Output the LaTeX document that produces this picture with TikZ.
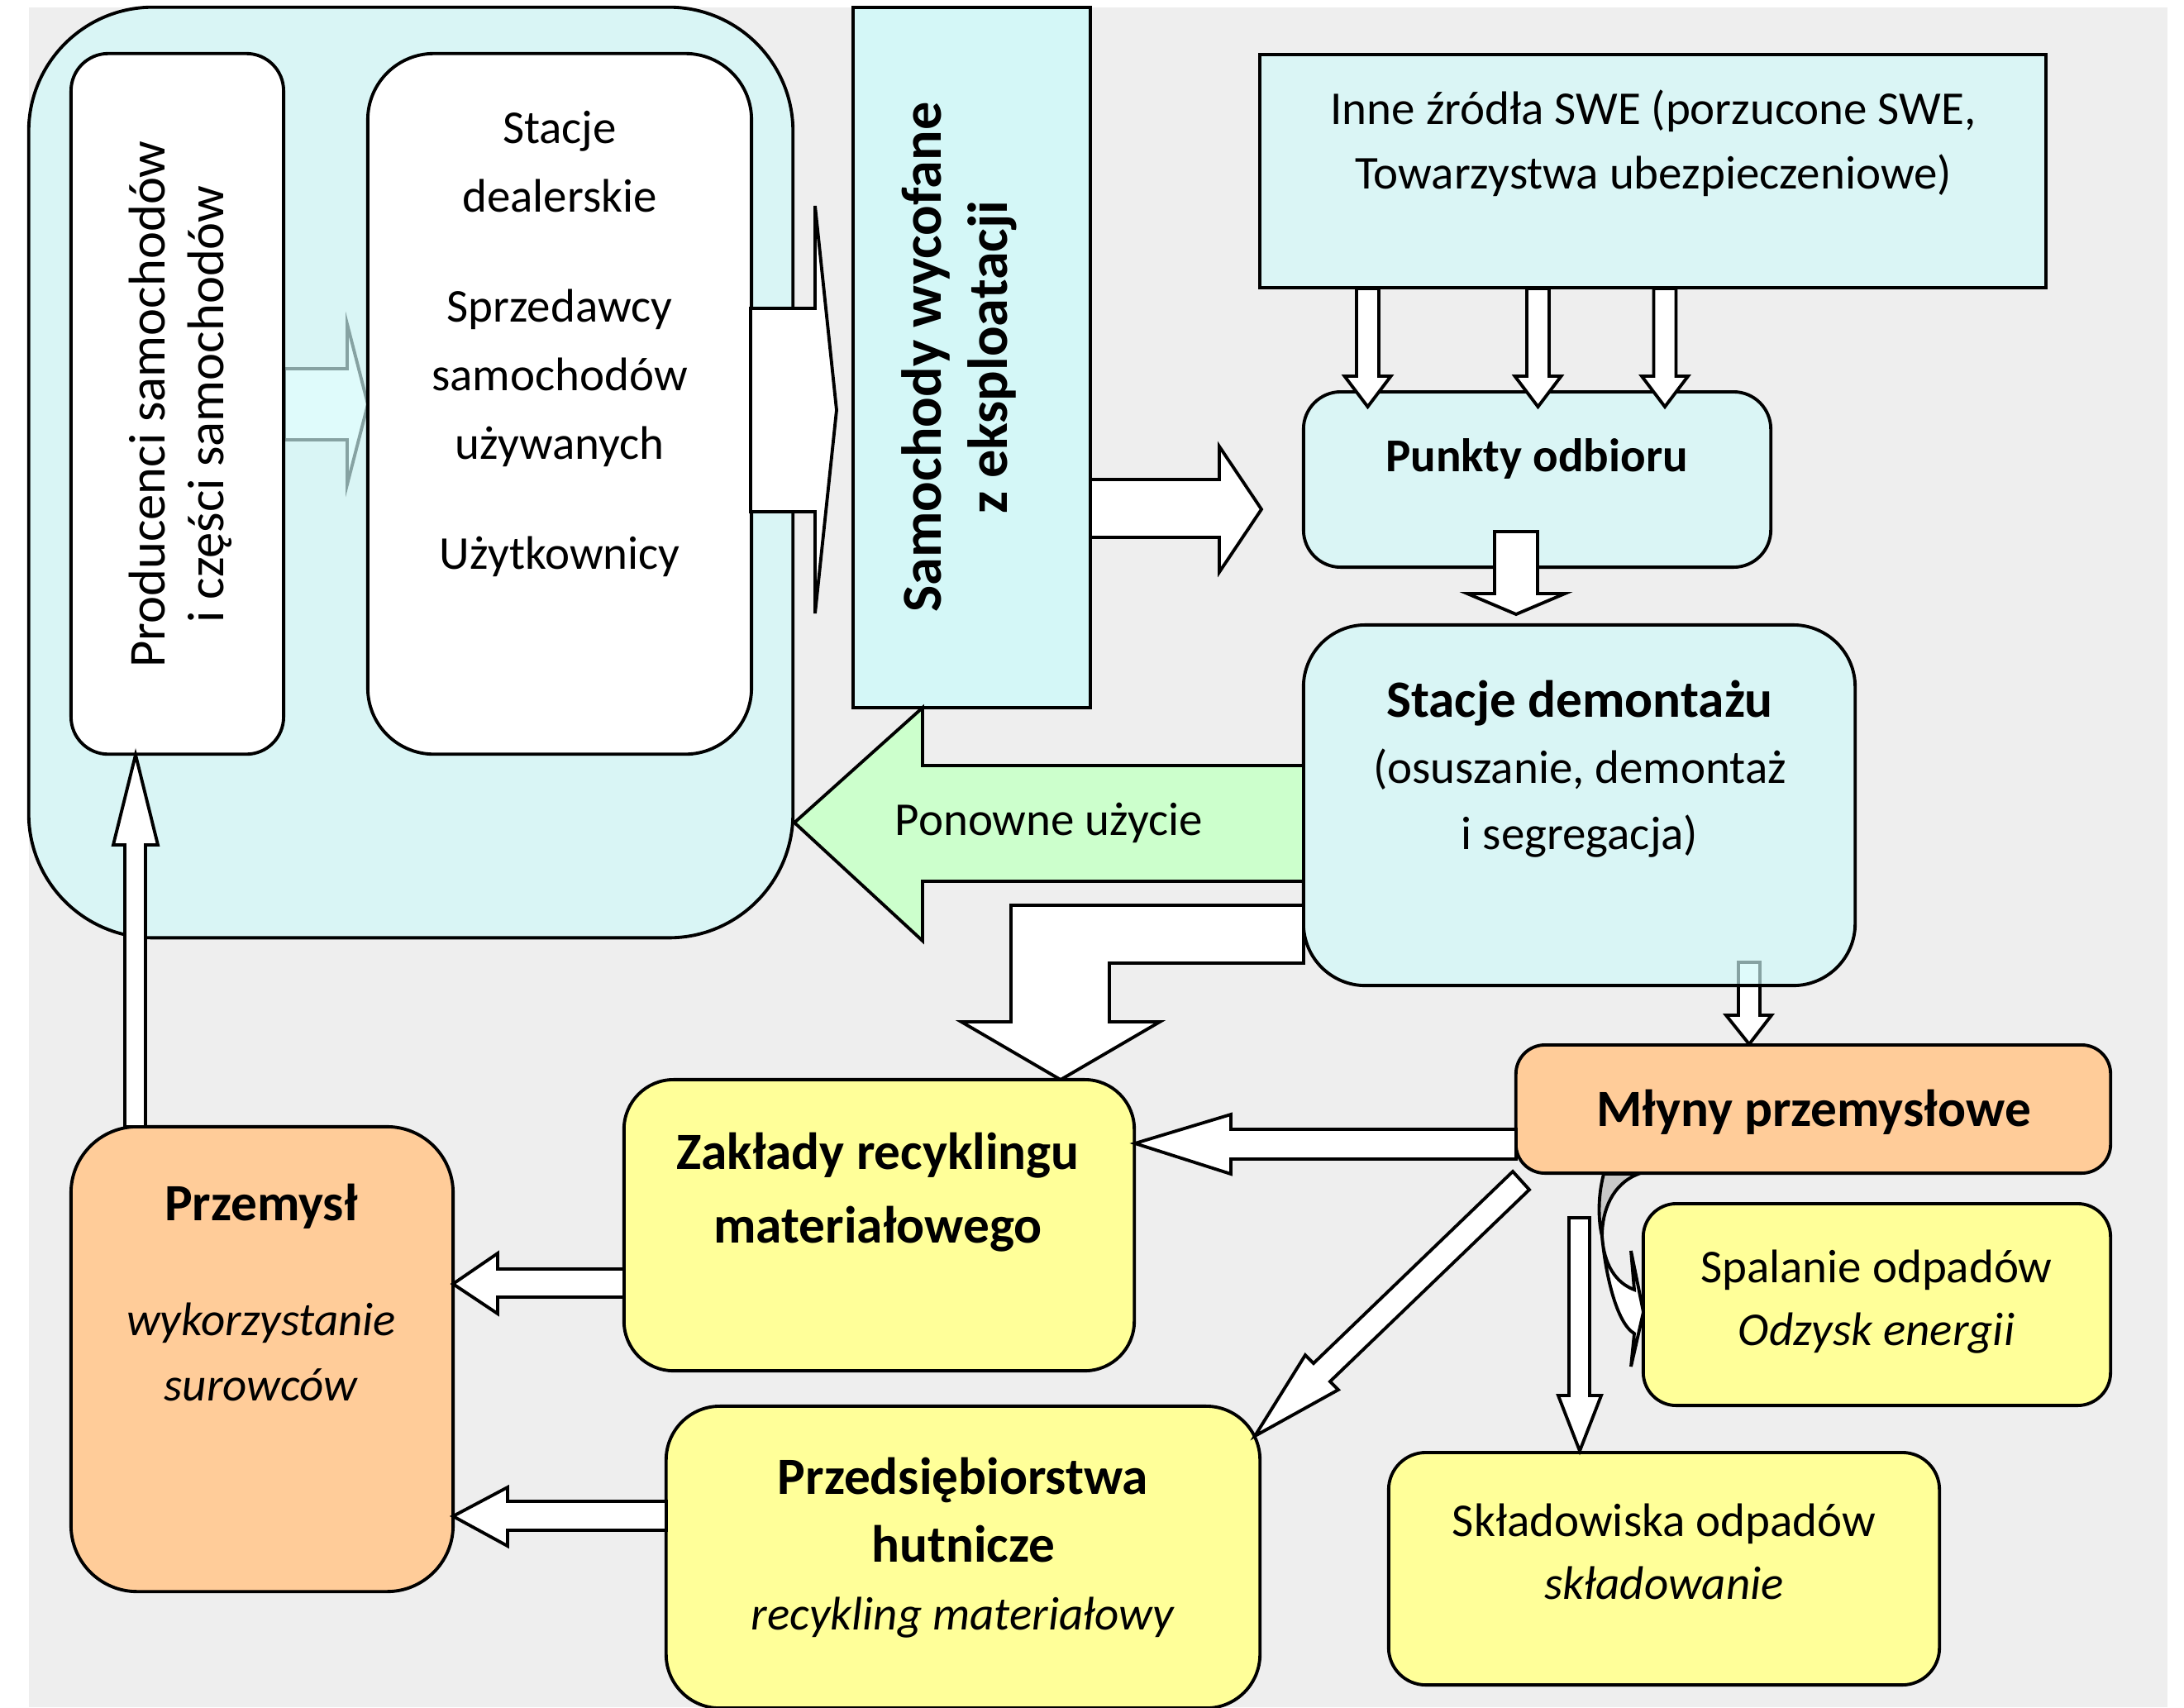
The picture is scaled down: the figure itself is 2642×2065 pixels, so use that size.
\documentclass[tikz,border=0pt]{standalone}
\usepackage{fontspec}
\setmainfont{Carlito}
\usepackage{tikz}
\usetikzlibrary{calc}
\definecolor{bgGray}{RGB}{238,238,238}
\definecolor{glassCyan}{RGB}{207,249,249}
\definecolor{paleCyan}{RGB}{218,245,245}
\definecolor{exitCyan}{RGB}{212,247,247}
\definecolor{reuseGreen}{RGB}{204,255,204}
\definecolor{millOrange}{RGB}{255,204,153}
\definecolor{plantYellow}{RGB}{255,255,153}
\definecolor{backGray}{RGB}{200,200,200}
\newcommand{\boxhead}{\fontsize{18}{22.2}\selectfont\bfseries}
\tikzset{
  plainbox/.style={
    rectangle, draw=black, line width=1.1pt, inner sep=0pt
  },
  glassbox/.style={plainbox, fill=glassCyan, fill opacity=0.65},
  fatArrow/.style={draw=black, line width=1.1pt, fill=white, line join=miter}
}

\begin{document}
\begin{tikzpicture}[
    x=0.01cm, y=-0.01cm,
    txt/.style={font=\fontsize{16.2}{22.2}\selectfont, align=center, inner sep=0pt}
  ]
    \useasboundingbox (0,0) rectangle (2642,2065);
    \fill[bgGray] (35,9) rectangle (2622,2065);

    % life cycle panel
    \draw[fatArrow] (344,446) -- (420,446) -- (420,392) -- (445,489) -- (420,586)
          -- (420,532) -- (344,532) -- cycle;
    \node[glassbox, rounded corners=1.5cm, minimum width=9.24cm,
          minimum height=11.25cm] (life) at (497,571.5) {};
    \node[plainbox, fill=white, rounded corners=0.45cm, minimum width=2.57cm,
          minimum height=8.47cm] (prod) at (214.5,488.5) {};
    \node[plainbox, fill=white, rounded corners=0.8cm, minimum width=4.64cm,
          minimum height=8.47cm] (deal) at (677,488.5) {};
    \node[txt, rotate=90, font=\fontsize{17.8}{20.2}\selectfont] (prodT) at (218,489)
          {Producenci samochodów\\i części samochodów};
    \node[txt, font=\fontsize{16.2}{23.6}\selectfont] (dealT) at (677,416)
          {Stacje\\dealerskie\\[14.2pt]Sprzedawcy\\samochodów\\używanych\\[14.2pt]Użytkownicy};
    \draw[fatArrow] (908,373) -- (986,373) -- (986,249) -- (1012,496) -- (986,742)
          -- (986,619) -- (908,619) -- cycle;

    % end of life vehicles
    \node[plainbox, fill=exitCyan, minimum width=2.87cm,
          minimum height=8.47cm] (exit) at (1175.5,432.5) {};
    \node[txt, rotate=90, font=\fontsize{19.4}{22.8}\selectfont\bfseries] (exitT) at (1160,432)
          {Samochody wycofane\\z eksploatacji};
    \draw[fatArrow] (1319,580) -- (1475,580) -- (1475,540) -- (1526,616) -- (1475,692)
          -- (1475,650) -- (1319,650) -- cycle;

    % collection
    \node[plainbox, fill=paleCyan, minimum width=9.51cm,
          minimum height=2.82cm] (other) at (1999.5,207) {};
    \node[txt] (otherT) at (2000,173)
          {Inne źródła SWE (porzucone SWE,\\Towarzystwa ubezpieczeniowe)};
    \node[plainbox, fill=paleCyan, rounded corners=0.45cm, minimum width=5.65cm,
          minimum height=2.12cm] (pickup) at (1859.5,580) {};
    \node[txt, font=\fontsize{16.2}{22.2}\selectfont\bfseries] (pickupT) at (1859,555) {Punkty odbioru};
    \foreach \cx in {1654.5,1860.5,2014}
      \draw[fatArrow] (\cx-13.5,349) -- (\cx+13.5,349) -- (\cx+13.5,455) -- (\cx+28,455)
            -- (\cx,492) -- (\cx-28,455) -- (\cx-13.5,455) -- cycle;
    \draw[fatArrow] (1808,643) -- (1860,643) -- (1860,718) -- (1893,718) -- (1834,743)
          -- (1775,718) -- (1808,718) -- cycle;

    % dismantling
    \draw[fatArrow] (2103,1164) -- (2129,1164) -- (2129,1228) -- (2143,1228) -- (2116,1263)
          -- (2088,1228) -- (2103,1228) -- cycle;
    \node[glassbox, rounded corners=0.75cm, minimum width=6.67cm,
          minimum height=4.36cm] (dismantle) at (1910.5,974) {};
    \node[txt, font=\fontsize{16.2}{22.7}\selectfont] (dismantleT) at (1911,930)
          {{\boxhead Stacje demontażu}\\(osuszanie, demontaż\\i segregacja)};
    \draw[fatArrow, fill=reuseGreen] (1577,926) -- (1116,926) -- (1116,856) -- (961,995)
          -- (1116,1138) -- (1116,1066) -- (1577,1066) -- cycle;
    \node[txt] (reuseT) at (1269,995) {Ponowne użycie};
    \draw[fatArrow] (1577,1095) -- (1223,1095) -- (1223,1236) -- (1163,1236) -- (1283,1306)
          -- (1403,1236) -- (1342,1236) -- (1342,1165) -- (1577,1165) -- cycle;

    % processing
    \node[plainbox, fill=millOrange, rounded corners=0.35cm, minimum width=7.19cm,
          minimum height=1.55cm] (mills) at (2193.5,1341.5) {};
    \node[txt, font=\boxhead] (millsT) at (2194,1345) {Młyny przemysłowe};
    \node[plainbox, fill=plantYellow, rounded corners=0.6cm, minimum width=6.17cm,
          minimum height=3.52cm] (recycle) at (1063.5,1482) {};
    \node[txt, font=\fontsize{18}{25.3}\selectfont\bfseries] (recycleT) at (1062,1442)
          {Zakłady recyklingu\\materiałowego};
    \node[plainbox, fill=millOrange, rounded corners=0.8cm, minimum width=4.62cm,
          minimum height=5.62cm] (industry) at (317,1644) {};
    \node[txt] (industryT) at (316,1563)
          {{\boxhead Przemysł}\\[17.6pt]\textit{wykorzystanie}\\\textit{surowców}};
    \node[plainbox, fill=plantYellow, rounded corners=0.65cm, minimum width=7.18cm,
          minimum height=3.65cm] (smelter) at (1165,1883.5) {};
    \node[txt, font=\fontsize{16.2}{23.4}\selectfont] (smelterT) at (1165,1872)
          {{\boxhead Przedsiębiorstwa}\\{\boxhead hutnicze}\\\textit{recykling materiałowy}};
    \node[plainbox, fill=plantYellow, rounded corners=0.4cm, minimum width=5.65cm,
          minimum height=2.44cm] (burn) at (2270.5,1578) {};
    \node[txt, font=\fontsize{16.2}{21.6}\selectfont] (burnT) at (2270,1575)
          {Spalanie odpadów\\\textit{Odzysk energii}};
    \node[plainbox, fill=plantYellow, rounded corners=0.45cm, minimum width=6.66cm,
          minimum height=2.81cm] (landfill) at (2013,1897.5) {};
    \node[txt, font=\fontsize{16.2}{21.4}\selectfont] (landfillT) at (2013,1877)
          {Składowiska odpadów\\\textit{składowanie}};

    \draw[fatArrow] (1834,1366) -- (1489,1366) -- (1489,1348) -- (1373,1383) -- (1489,1420)
          -- (1489,1402) -- (1834,1402) -- cycle;
    \draw[fatArrow] (1830,1417) -- (1589,1649) -- (1579,1639) -- (1518,1737) -- (1619,1681)
          -- (1609,1671) -- (1850,1439) -- cycle;
    \draw[fatArrow] (1898,1473) -- (1923,1473) -- (1923,1688) -- (1937,1688) -- (1911,1755)
          -- (1885,1688) -- (1898,1688) -- cycle;
    \draw[fatArrow, fill=backGray] (1940,1420) .. controls (1932,1450) and (1934,1480) .. (1938,1495)
          .. controls (1938,1465) and (1950,1432) .. (1982,1420) -- cycle;
    \draw[fatArrow] (1938,1495) .. controls (1942,1540) and (1955,1600) .. (1977,1613)
          -- (1973,1653) -- (1988,1587) -- (1973,1513) -- (1977,1560)
          .. controls (1955,1552) and (1940,1530) .. (1938,1495) -- cycle;
    \draw[fatArrow] (755,1535) -- (602,1535) -- (602,1516) -- (548,1553) -- (602,1589)
          -- (602,1569) -- (755,1569) -- cycle;
    \draw[fatArrow] (806,1816) -- (614,1816) -- (614,1799) -- (548,1834) -- (614,1870)
          -- (614,1851) -- (806,1851) -- cycle;
    \draw[fatArrow] (151,1363) -- (151,1022) -- (137,1022) -- (164,913) -- (191,1022)
          -- (176,1022) -- (176,1363) -- cycle;
\end{tikzpicture}
\end{document}
